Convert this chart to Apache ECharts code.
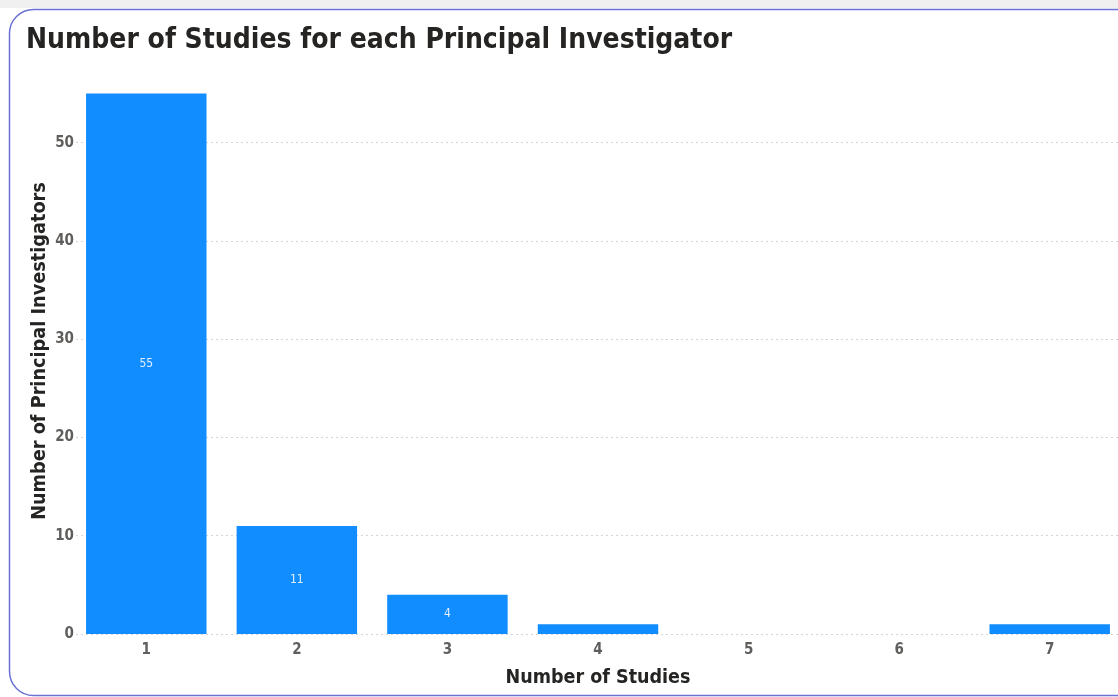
<!DOCTYPE html>
<html>
<head>
<meta charset="utf-8">
<script src="https://cdn.jsdelivr.net/npm/echarts@6/dist/echarts.min.js"></script>
<style>
html,body{margin:0;padding:0;background:#ffffff;}
#chart{width:1118px;height:697px;}
</style>
</head>
<body>
<div id="chart"></div>
<script>
var categories = ['1', '2', '3', '4', '5', '6', '7'];
var investigators = [55, 11, 4, 1, 0, 0, 1];
var yTicks = [0, 10, 20, 30, 40, 50];

var FONT = '"DejaVu Sans Condensed", "DejaVu Sans", sans-serif';
var chart = echarts.init(document.getElementById('chart'));
var option = {
  backgroundColor: '#ffffff',
  animation: false,
  graphic: [
    { type: 'rect', z: -10, shape: { x: 0, y: 0, width: 1118, height: 8 }, style: { fill: '#f0f0f0' } },
    { type: 'rect', z: -9, shape: { x: 9.5, y: 9.5, width: 1130, height: 686, r: 24 },
      style: { fill: '#ffffff', stroke: '#6a72d4', lineWidth: 1.5 } }
  ],
  title: {
    text: 'Number of Studies for each Principal Investigator',
    left: 21, top: 22,
    textStyle: { fontFamily: FONT, fontWeight: 'bold', fontSize: 28, color: '#252423' }
  },
  grid: { left: 71, right: -7, top: 68, bottom: 63, containLabel: false, outerBoundsMode: 'none' },
  xAxis: {
    type: 'category',
    data: categories,
    name: 'Number of Studies',
    nameLocation: 'middle',
    nameGap: 34,
    nameTextStyle: { fontFamily: FONT, fontWeight: 'bold', fontSize: 19.5, color: '#252423' },
    axisLine: { show: false },
    axisTick: { show: false },
    axisLabel: { fontFamily: FONT, fontWeight: 'bold', fontSize: 15, color: '#605e5c', margin: 9 }
  },
  yAxis: {
    type: 'value',
    min: 0, max: 57.6,
    name: 'Number of Principal Investigators',
    nameLocation: 'middle',
    nameMoveOverlap: false,
    nameGap: 21,
    nameTextStyle: { fontFamily: FONT, fontWeight: 'bold', fontSize: 19.7, color: '#252423' },
    axisLine: { show: false },
    axisTick: { show: false, customValues: yTicks },
    axisLabel: { customValues: yTicks, fontFamily: FONT, fontWeight: 'bold', fontSize: 15, color: '#605e5c', margin: -3 },
    splitLine: { show: true, lineStyle: { color: '#d6d6d6', type: [2, 3], width: 1 } }
  },
  series: [{
    type: 'bar',
    data: investigators,
    barCategoryGap: '20%',
    itemStyle: { color: '#118dff' },
    label: {
      show: true, position: 'inside', color: '#e3efff', fontFamily: FONT, fontSize: 12,
      formatter: function (p) { return p.value >= 4 ? String(p.value) : ''; }
    }
  }]
};
chart.setOption(option);
</script>
</body>
</html>
